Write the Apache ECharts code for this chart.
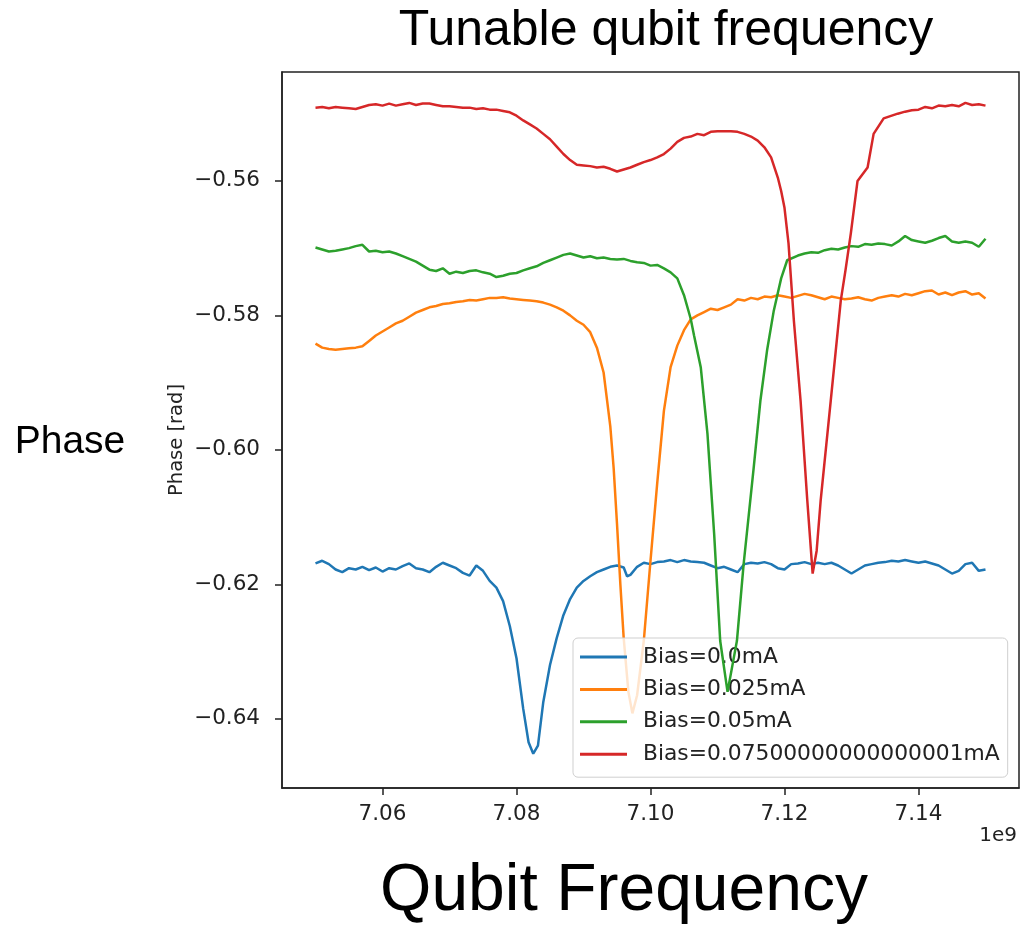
<!DOCTYPE html>
<html>
<head>
<meta charset="utf-8">
<script src="https://cdn.jsdelivr.net/npm/echarts@6/dist/echarts.min.js"></script>
<style>
html,body{margin:0;padding:0;background:#fff;}
#chart{width:1021px;height:930px;}
</style>
</head>
<body>
<div id="chart"></div>
<script>
// ---- Data (frequency in units of 1e9 Hz, phase in rad) ----
const seriesNames = ["Bias=0.0mA", "Bias=0.025mA", "Bias=0.05mA", "Bias=0.07500000000000001mA"];
const xTickValues = [7.06, 7.08, 7.10, 7.12, 7.14];
const yTickValues = [-0.64, -0.62, -0.60, -0.58, -0.56];

const freqBlue = [7.050,7.051,7.052,7.053,7.054,7.055,7.056,7.057,7.058,7.059,7.060,7.061,7.062,7.063,7.064,7.065,7.066,7.067,7.068,7.069,7.070,7.071,7.072,7.073,7.074,7.075,7.076,7.077,7.078,7.079,7.080,7.081,7.0818,7.0825,7.0832,7.084,7.085,7.086,7.087,7.088,7.089,7.090,7.091,7.092,7.093,7.094,7.095,7.096,7.0965,7.097,7.098,7.099,7.100,7.101,7.102,7.103,7.104,7.105,7.106,7.107,7.108,7.109,7.110,7.111,7.112,7.113,7.114,7.115,7.116,7.117,7.118,7.119,7.120,7.121,7.122,7.123,7.124,7.125,7.126,7.127,7.128,7.129,7.130,7.131,7.132,7.133,7.134,7.135,7.136,7.137,7.138,7.139,7.140,7.141,7.142,7.143,7.144,7.145,7.146,7.147,7.148,7.149,7.150];
const phaseBlue = [-0.6169,-0.6165,-0.6170,-0.6178,-0.6182,-0.6176,-0.6178,-0.6174,-0.6179,-0.6175,-0.6181,-0.6176,-0.6178,-0.6173,-0.6169,-0.6176,-0.6178,-0.6182,-0.6174,-0.6168,-0.6172,-0.6176,-0.6183,-0.6187,-0.6172,-0.6180,-0.6195,-0.6205,-0.6225,-0.6262,-0.6310,-0.6385,-0.6435,-0.6452,-0.6440,-0.6375,-0.6320,-0.6280,-0.6246,-0.6222,-0.6205,-0.6195,-0.6188,-0.6182,-0.6178,-0.6174,-0.6172,-0.6175,-0.6188,-0.6186,-0.6174,-0.6168,-0.6170,-0.6167,-0.6166,-0.6164,-0.6167,-0.6164,-0.6166,-0.6167,-0.6168,-0.6172,-0.6176,-0.6174,-0.6178,-0.6182,-0.6170,-0.6168,-0.6169,-0.6167,-0.6170,-0.6176,-0.6178,-0.6170,-0.6169,-0.6167,-0.6170,-0.6168,-0.6170,-0.6168,-0.6172,-0.6178,-0.6184,-0.6178,-0.6172,-0.6170,-0.6168,-0.6167,-0.6165,-0.6166,-0.6164,-0.6166,-0.6168,-0.6166,-0.6169,-0.6172,-0.6178,-0.6184,-0.6180,-0.6170,-0.6168,-0.6180,-0.6178];

const freqOrange = [7.050,7.051,7.052,7.053,7.054,7.055,7.056,7.057,7.058,7.059,7.060,7.061,7.062,7.063,7.064,7.065,7.066,7.067,7.068,7.069,7.070,7.071,7.072,7.073,7.074,7.075,7.076,7.077,7.078,7.079,7.080,7.081,7.082,7.083,7.084,7.085,7.086,7.087,7.088,7.089,7.090,7.091,7.092,7.093,7.0935,7.094,7.0945,7.095,7.0955,7.096,7.0967,7.0973,7.098,7.099,7.100,7.101,7.102,7.103,7.104,7.105,7.106,7.107,7.108,7.109,7.110,7.111,7.112,7.113,7.114,7.115,7.116,7.117,7.118,7.119,7.120,7.121,7.122,7.123,7.124,7.125,7.126,7.127,7.128,7.129,7.130,7.131,7.132,7.133,7.134,7.135,7.136,7.137,7.138,7.139,7.140,7.141,7.142,7.143,7.144,7.145,7.146,7.147,7.148,7.149,7.150];
const phaseOrange = [-0.5842,-0.5848,-0.5850,-0.5851,-0.5850,-0.5849,-0.5848,-0.5846,-0.5838,-0.5830,-0.5824,-0.5818,-0.5812,-0.5808,-0.5802,-0.5796,-0.5792,-0.5788,-0.5786,-0.5783,-0.5782,-0.5780,-0.5779,-0.5777,-0.5778,-0.5776,-0.5774,-0.5774,-0.5773,-0.5775,-0.5776,-0.5777,-0.5778,-0.5779,-0.5781,-0.5784,-0.5788,-0.5793,-0.5800,-0.5808,-0.5814,-0.5825,-0.5848,-0.5885,-0.5925,-0.5965,-0.6027,-0.6110,-0.6200,-0.6280,-0.6360,-0.6392,-0.6365,-0.6284,-0.6165,-0.6050,-0.5942,-0.5877,-0.5845,-0.5822,-0.5806,-0.5800,-0.5795,-0.5790,-0.5792,-0.5788,-0.5784,-0.5776,-0.5778,-0.5774,-0.5776,-0.5772,-0.5773,-0.5770,-0.5772,-0.5774,-0.5771,-0.5768,-0.5770,-0.5773,-0.5776,-0.5772,-0.5774,-0.5776,-0.5775,-0.5773,-0.5776,-0.5778,-0.5774,-0.5772,-0.5770,-0.5772,-0.5768,-0.5770,-0.5767,-0.5764,-0.5763,-0.5769,-0.5766,-0.5770,-0.5766,-0.5764,-0.5769,-0.5767,-0.5775];

const freqGreen = [7.050,7.051,7.052,7.053,7.054,7.055,7.056,7.057,7.058,7.059,7.060,7.061,7.062,7.063,7.064,7.065,7.066,7.067,7.068,7.069,7.070,7.071,7.072,7.073,7.074,7.075,7.076,7.077,7.078,7.079,7.080,7.081,7.082,7.083,7.084,7.085,7.086,7.087,7.088,7.089,7.090,7.091,7.092,7.093,7.094,7.095,7.096,7.097,7.098,7.099,7.100,7.101,7.102,7.103,7.104,7.105,7.106,7.1065,7.1075,7.1085,7.1095,7.1104,7.1115,7.1129,7.1139,7.1154,7.1164,7.1174,7.1184,7.1195,7.1204,7.122,7.123,7.124,7.125,7.126,7.127,7.128,7.129,7.130,7.131,7.132,7.133,7.134,7.135,7.136,7.137,7.138,7.139,7.140,7.141,7.142,7.143,7.144,7.145,7.146,7.147,7.148,7.149,7.150];
const phaseGreen = [-0.5699,-0.5702,-0.5705,-0.5704,-0.5702,-0.5700,-0.5697,-0.5695,-0.5705,-0.5704,-0.5706,-0.5705,-0.5708,-0.5712,-0.5716,-0.5720,-0.5726,-0.5732,-0.5734,-0.5730,-0.5738,-0.5735,-0.5737,-0.5734,-0.5733,-0.5736,-0.5738,-0.5743,-0.5741,-0.5738,-0.5737,-0.5733,-0.5730,-0.5727,-0.5722,-0.5718,-0.5714,-0.5710,-0.5708,-0.5711,-0.5714,-0.5712,-0.5715,-0.5714,-0.5716,-0.5717,-0.5716,-0.5719,-0.5721,-0.5722,-0.5726,-0.5725,-0.5730,-0.5736,-0.5745,-0.5770,-0.5805,-0.5830,-0.5877,-0.5976,-0.6125,-0.6284,-0.6360,-0.6284,-0.6170,-0.6027,-0.5927,-0.5852,-0.5793,-0.5745,-0.5718,-0.5711,-0.5708,-0.5706,-0.5707,-0.5703,-0.5701,-0.5702,-0.5699,-0.5697,-0.5698,-0.5694,-0.5695,-0.5693,-0.5694,-0.5696,-0.5690,-0.5682,-0.5688,-0.5690,-0.5692,-0.5689,-0.5685,-0.5682,-0.5690,-0.5692,-0.5690,-0.5692,-0.5698,-0.5686];

const freqRed = [7.050,7.051,7.052,7.053,7.054,7.055,7.056,7.057,7.058,7.059,7.060,7.061,7.062,7.063,7.064,7.065,7.066,7.067,7.068,7.069,7.070,7.071,7.072,7.073,7.074,7.075,7.076,7.077,7.078,7.079,7.080,7.081,7.082,7.083,7.084,7.085,7.086,7.087,7.088,7.089,7.090,7.091,7.092,7.093,7.094,7.095,7.096,7.097,7.098,7.099,7.100,7.101,7.102,7.103,7.104,7.105,7.106,7.107,7.108,7.109,7.110,7.111,7.112,7.113,7.114,7.115,7.116,7.117,7.118,7.119,7.1195,7.120,7.1206,7.1214,7.1224,7.1234,7.1242,7.1248,7.1254,7.1269,7.1284,7.1291,7.1299,7.1309,7.1324,7.1333,7.1348,7.1369,7.138,7.139,7.140,7.141,7.142,7.143,7.144,7.145,7.146,7.147,7.148,7.149,7.150];
const phaseRed = [-0.5491,-0.5490,-0.5492,-0.5490,-0.5491,-0.5492,-0.5493,-0.5490,-0.5487,-0.5486,-0.5488,-0.5485,-0.5488,-0.5486,-0.5484,-0.5487,-0.5485,-0.5485,-0.5487,-0.5489,-0.5489,-0.5490,-0.5491,-0.5491,-0.5493,-0.5492,-0.5494,-0.5494,-0.5496,-0.5498,-0.5503,-0.5510,-0.5516,-0.5522,-0.5530,-0.5538,-0.5549,-0.5560,-0.5569,-0.5576,-0.5577,-0.5578,-0.5580,-0.5579,-0.5582,-0.5586,-0.5583,-0.5580,-0.5576,-0.5572,-0.5569,-0.5565,-0.5560,-0.5552,-0.5542,-0.5536,-0.5534,-0.5530,-0.5532,-0.5527,-0.5526,-0.5526,-0.5526,-0.5527,-0.5530,-0.5534,-0.5540,-0.5550,-0.5565,-0.5595,-0.5615,-0.5640,-0.5693,-0.5808,-0.5927,-0.6075,-0.6184,-0.6150,-0.6075,-0.5927,-0.5778,-0.5733,-0.5678,-0.5600,-0.5580,-0.5530,-0.5507,-0.5500,-0.5497,-0.5495,-0.5494,-0.5490,-0.5492,-0.5488,-0.5489,-0.5487,-0.5489,-0.5484,-0.5487,-0.5486,-0.5488];

const colors = ["#1f77b4", "#ff7f0e", "#2ca02c", "#d62728"];
const freqs = [freqBlue, freqOrange, freqGreen, freqRed];
const phases = [phaseBlue, phaseOrange, phaseGreen, phaseRed];

function zip(xs, ys) { return xs.map((x, i) => [x, ys[i]]); }

const chart = echarts.init(document.getElementById('chart'), null, {renderer: 'canvas'});
const tickFont = 'DejaVu Sans';
const option = {
  animation: false,
  backgroundColor: '#ffffff',
  color: colors,
  grid: {left: 282, top: 72, width: 737, height: 716, show: true, borderColor: '#222', borderWidth: 1.5, backgroundColor: 'transparent'},
  xAxis: {
    type: 'value', min: 7.045, max: 7.155,
    splitLine: {show: false},
    axisLine: {show: true, onZero: false, lineStyle: {color: '#222', width: 1.5}},
    axisTick: {show: true, customValues: xTickValues, length: 7, lineStyle: {color: '#222', width: 1.5}},
    axisLabel: {customValues: xTickValues, margin: 15, fontFamily: tickFont, fontSize: 21.5, color: '#222',
      formatter: v => v.toFixed(2)}
  },
  yAxis: {
    type: 'value', min: -0.6503, max: -0.5438,
    splitLine: {show: false},
    axisLine: {show: true, onZero: false, lineStyle: {color: '#222', width: 1.5}},
    axisTick: {show: true, customValues: yTickValues, length: 7, lineStyle: {color: '#222', width: 1.5}},
    axisLabel: {customValues: yTickValues, margin: 22, fontFamily: tickFont, fontSize: 21.5, color: '#222',
      formatter: v => '\u2212' + Math.abs(v).toFixed(2)}
  },
  legend: {
    orient: 'vertical', left: 573, top: 638,
    data: seriesNames,
    icon: 'rect', itemWidth: 47, itemHeight: 3, itemGap: 8.4,
    padding: [7, 8, 11, 7],
    backgroundColor: 'rgba(255,255,255,0.8)', borderColor: '#cfcfcf', borderWidth: 1, borderRadius: 5,
    textStyle: {fontFamily: tickFont, fontSize: 21.8, color: '#222', lineHeight: 24, padding: [0, 0, 0, 11]}
  },
  graphic: [
    {type: 'text', style: {text: 'Tunable qubit frequency', x: 666, y: 31, textAlign: 'center', textVerticalAlign: 'middle', font: '50px "Liberation Sans", Arial, sans-serif', fill: '#000'}},
    {type: 'text', style: {text: 'Qubit Frequency', x: 624, y: 892, textAlign: 'center', textVerticalAlign: 'middle', font: '66px "Liberation Sans", Arial, sans-serif', fill: '#000'}},
    {type: 'text', style: {text: 'Phase', x: 70, y: 442, textAlign: 'center', textVerticalAlign: 'middle', font: '39px "Liberation Sans", Arial, sans-serif', fill: '#000'}},
    {type: 'text', x: 177, y: 440, rotation: Math.PI / 2, style: {text: 'Phase [rad]', x: 0, y: 0, textAlign: 'center', textVerticalAlign: 'middle', font: '19.5px "DejaVu Sans", sans-serif', fill: '#222'}},
    {type: 'text', style: {text: '1e9', x: 1017, y: 836, textAlign: 'right', textVerticalAlign: 'middle', font: '20px "DejaVu Sans", sans-serif', fill: '#222'}}
  ],
  series: seriesNames.map((name, i) => ({
    name: name, type: 'line', data: zip(freqs[i], phases[i]),
    symbol: 'none', showSymbol: false, smooth: false,
    lineStyle: {width: 2.5, color: colors[i]}, itemStyle: {color: colors[i]},
    z: 2 + i
  }))
};
chart.setOption(option);
</script>
</body>
</html>
